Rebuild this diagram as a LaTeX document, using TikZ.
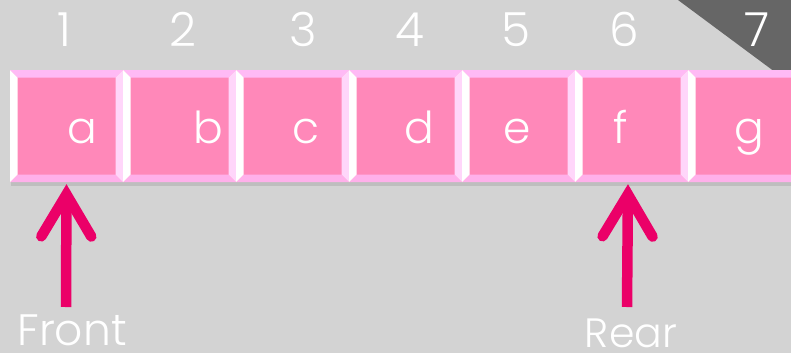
\documentclass[tikz,border=0pt]{standalone}
\usepackage{fontspec}
\setmainfont{Poppins}[UprightFont=* Light]
\usetikzlibrary{arrows.meta}
\usetikzlibrary{shadows}
\definecolor{bg}{RGB}{211,211,211}
\definecolor{corner}{RGB}{102,102,102}
\definecolor{face}{RGB}{255,136,185}
\definecolor{bevtop}{RGB}{255,186,245}
\definecolor{bevbot}{RGB}{255,176,234}
\definecolor{bevright}{RGB}{255,214,250}
\definecolor{ptrpink}{RGB}{235,0,104}
\newcommand\bevw{7.5pt}

\tikzset{
  cell/.style={minimum width=113pt, minimum height=112pt, inner sep=0pt, fill=face,
    drop shadow={shadow xshift=1pt, shadow yshift=-4pt, opacity=.25},
    path picture={
      \path (path picture bounding box.north west) coordinate (pnw)
            (path picture bounding box.north east) coordinate (pne)
            (path picture bounding box.south west) coordinate (psw)
            (path picture bounding box.south east) coordinate (pse);
      \fill[bevtop] (pnw) -- (pne) -- ([shift={(-\bevw,-\bevw)}]pne) -- ([shift={(\bevw,-\bevw)}]pnw) -- cycle;
      \fill[bevbot] (psw) -- (pse) -- ([shift={(-\bevw,\bevw)}]pse) -- ([shift={(\bevw,\bevw)}]psw) -- cycle;
      \fill[white] (pnw) -- (psw) -- ([shift={(\bevw,\bevw)}]psw) -- ([shift={(\bevw,-\bevw)}]pnw) -- cycle;
      \fill[bevright] (pne) -- (pse) -- ([shift={(-\bevw,\bevw)}]pse) -- ([shift={(-\bevw,-\bevw)}]pne) -- cycle;
    }},
  lbl/.style={text=white, anchor=base, inner sep=0pt, font=\fontsize{44}{48}\selectfont},
  num/.style={text=white, anchor=base, inner sep=0pt, font=\fontsize{47}{50}\selectfont},
  tag/.style={text=white, anchor=base, inner sep=0pt, text depth=0pt, font=\fontsize{44}{48}\selectfont},
  ptr/.style={draw=ptrpink, line width=10.5pt, shorten >=2pt,
    -{Straight Barb[length=42pt, width=50pt, line cap=round, line join=miter]}}
}

\begin{document}
\begin{tikzpicture}[x=1pt,y=-1pt]
  \fill[bg] (0,0) rectangle (791,353);
  \clip (0,0) rectangle (791,353);
  \fill[corner] (678,0) -- (791,0) -- (791,72) -- (775,72) -- cycle;

  % the queue cells
  \foreach \i/\l in {0/a,1/b,2/c,3/d,4/e,5/f,6/g} {
    \node[cell] (\l) at (66.5+113*\i, 126) {};
  }

  % contents
  \foreach \l/\x in {a/82,b/208,c/306,d/419,e/517,f/621,g/749} {
    \node[lbl] (t\l) at (\x,143) {\l};
  }

  % positions
  \foreach \n/\x in {1/64,2/183,3/303,4/410,5/516,6/624,7/757} {
    \node[num] (n\n) at (\x,47) {\n};
  }

  % front and rear pointers
  \node[tag] (front) at (72,345) {Front};
  \node[tag, font=\fontsize{41}{45}\selectfont] (rear) at (631,347) {Rear};
  \coordinate (fbase) at (66,307);
  \coordinate (rbase) at (627,307);
  \draw[ptr] (fbase) -- (a.south);
  \draw[ptr] (rbase) -- ([xshift=-3.5pt]f.south);
\end{tikzpicture}
\end{document}
